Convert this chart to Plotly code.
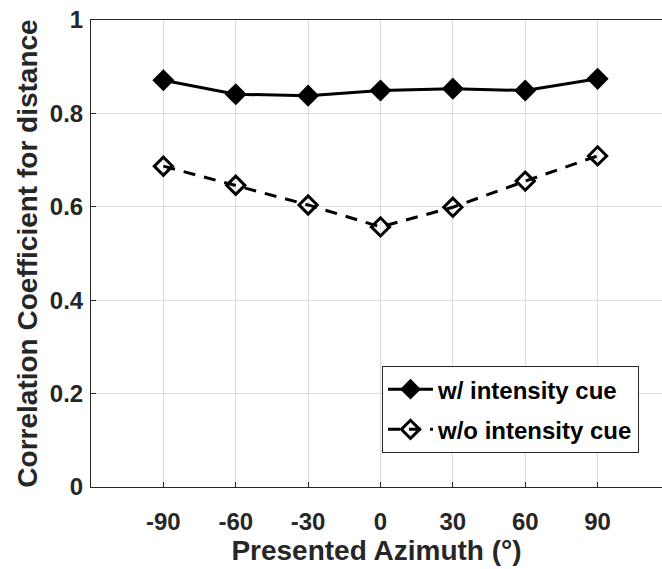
import plotly.graph_objects as go

azimuth = [-90, -60, -30, 0, 30, 60, 90]
with_cue = [0.871, 0.841, 0.838, 0.849, 0.853, 0.849, 0.874]
without_cue = [0.687, 0.646, 0.604, 0.557, 0.599, 0.655, 0.709]
x_ticks = [-90, -60, -30, 0, 30, 60, 90]
y_ticks = [0, 0.2, 0.4, 0.6, 0.8, 1]
y_tick_text = ["0", "0.2", "0.4", "0.6", "0.8", "1"]

FAM = "Arial, Liberation Sans, sans-serif"
TXT = "#262626"

fig = go.Figure()
fig.add_trace(go.Scatter(
    x=azimuth, y=with_cue, mode="lines+markers", name="w/ intensity cue",
    legendgroup="a",
    line=dict(color="black", width=3),
    marker=dict(symbol="diamond", size=17, color="black"),
))
fig.add_trace(go.Scatter(
    x=azimuth, y=without_cue, mode="lines+markers", name="w/o intensity cue",
    legendgroup="b",
    line=dict(color="black", width=3, dash="12px,9px"),
    marker=dict(symbol="diamond-open", size=14, color="black", line=dict(width=3)),
))

fig.update_layout(
    width=662, height=569,
    margin=dict(l=91, r=0, t=20, b=82, autoexpand=False),
    plot_bgcolor="white", paper_bgcolor="white",
    font=dict(family=FAM, color=TXT),
    xaxis=dict(
        range=[-120, 116.7], tickvals=x_ticks, ticktext=[str(v) for v in x_ticks],
        tickfont=dict(size=24, family=FAM, weight="bold", color=TXT),
        ticklabelstandoff=13, ticklabeloverflow="allow",
        title=dict(text="Presented Azimuth (°)", font=dict(size=28, family=FAM, weight="bold", color=TXT), standoff=2),
        showgrid=True, gridcolor="#dcdcdc", gridwidth=1,
        showline=True, linecolor=TXT, linewidth=1, mirror=True,
        ticks="inside", ticklen=5, tickcolor=TXT, zeroline=False, automargin=False,
    ),
    yaxis=dict(
        range=[0, 1], tickvals=y_ticks, ticktext=y_tick_text,
        tickfont=dict(size=24, family=FAM, weight="bold", color=TXT),
        ticklabelstandoff=2, ticklabeloverflow="allow",
        title=dict(text="Correlation Coefficient for distance", font=dict(size=28, family=FAM, weight="bold", color=TXT), standoff=4),
        showgrid=True, gridcolor="#dcdcdc", gridwidth=1,
        showline=True, linecolor=TXT, linewidth=1, mirror=False,
        ticks="inside", ticklen=5, tickcolor=TXT, zeroline=False, automargin=False,
    ),
    legend=dict(
        x=0.5096, y=0.259, xanchor="left", yanchor="top",
        bgcolor="white", bordercolor=TXT, borderwidth=1,
        font=dict(size=24, family=FAM, weight="bold", color="black"),
        traceorder="grouped", tracegroupgap=6, itemwidth=45,
    ),
)
fig.write_html("out.html", config={"displayModeBar": False},
               post_script="document.body.style.margin='0';")
